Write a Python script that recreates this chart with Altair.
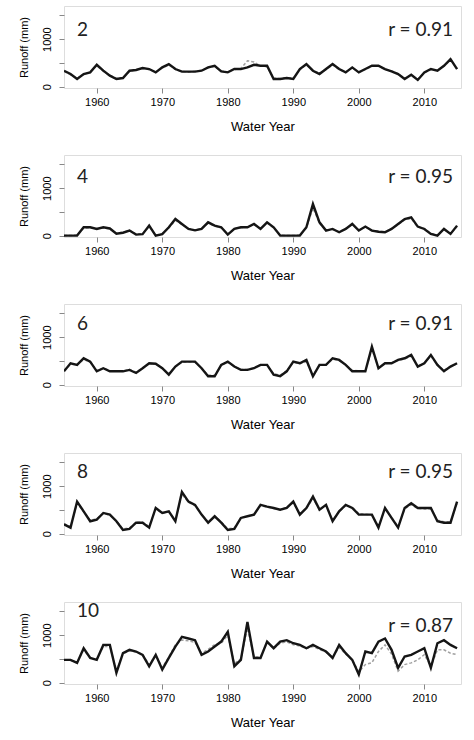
import altair as alt
import pandas as pd

# Water years shown on every panel
years = list(range(1955, 2016))

# Panel identifiers and the correlation printed in each panel
panel_ids = ["2", "4", "6", "8", "10"]
r_values = ["0.91", "0.95", "0.91", "0.95", "0.87"]

# Annual runoff (mm), observed and simulated, 1955-2015
obs_2 = [335, 265, 160, 265, 300, 460, 335, 230, 160, 180,
         335, 350, 390, 370, 300, 405, 475, 370, 315, 315,
         315, 335, 405, 440, 320, 300, 370, 370, 405, 460,
         440, 440, 160, 160, 180, 160, 370, 475, 335, 265,
         370, 475, 370, 300, 405, 300, 370, 440, 440, 370,
         320, 265, 160, 250, 140, 300, 370, 335, 440, 580, 370]
sim_2 = [320, 250, 175, 255, 310, 440, 320, 240, 175, 190,
         320, 360, 380, 360, 310, 395, 455, 360, 320, 305,
         325, 340, 395, 430, 330, 310, 360, 380, 545, 520,
         430, 420, 175, 170, 190, 175, 360, 455, 340, 280,
         360, 460, 360, 310, 395, 310, 360, 430, 430, 360,
         330, 275, 175, 240, 160, 290, 360, 345, 430, 560, 380]

obs_4 = [0, 0, 0, 175, 175, 140, 175, 150, 40, 60,
         105, 20, 30, 210, 0, 30, 175, 350, 245, 140,
         110, 140, 280, 210, 175, 20, 140, 175, 175, 245,
         140, 280, 175, 0, 0, 0, 0, 175, 665, 280,
         105, 140, 70, 140, 245, 105, 190, 105, 80, 70,
         140, 245, 350, 385, 190, 140, 35, 0, 140, 35, 210]
sim_4 = [0, 0, 10, 160, 165, 150, 160, 140, 50, 70,
         110, 30, 40, 190, 10, 40, 160, 320, 230, 150,
         120, 150, 260, 200, 170, 30, 150, 165, 185, 230,
         150, 260, 165, 10, 0, 0, 10, 160, 580, 260,
         115, 130, 80, 150, 230, 115, 180, 115, 90, 80,
         150, 230, 330, 360, 180, 150, 45, 10, 130, 45, 190]

obs_6 = [280, 450, 415, 555, 485, 280, 345, 280, 280, 280,
         310, 245, 345, 450, 440, 345, 210, 380, 485, 485,
         485, 345, 175, 175, 415, 485, 380, 310, 310, 345,
         415, 415, 210, 175, 280, 485, 450, 520, 175, 415,
         415, 555, 520, 415, 280, 280, 280, 800, 345, 450,
         450, 520, 555, 625, 380, 450, 625, 415, 280, 380, 450]
sim_6 = [300, 430, 420, 530, 470, 300, 350, 290, 290, 285,
         320, 260, 350, 440, 430, 350, 230, 380, 470, 480,
         470, 350, 200, 195, 410, 470, 380, 320, 320, 350,
         410, 410, 230, 200, 290, 470, 440, 480, 200, 410,
         420, 530, 510, 420, 300, 290, 290, 740, 360, 440,
         460, 510, 540, 600, 390, 450, 600, 420, 300, 380, 440]

obs_8 = [195, 125, 675, 470, 260, 295, 435, 400, 260, 75,
         100, 230, 230, 125, 540, 435, 470, 260, 880, 675,
         605, 400, 230, 365, 230, 75, 100, 330, 365, 400,
         605, 570, 540, 505, 540, 675, 400, 540, 780, 505,
         605, 260, 470, 605, 540, 400, 400, 400, 125, 540,
         330, 125, 540, 640, 540, 540, 540, 260, 230, 230, 675]
sim_8 = [210, 150, 640, 460, 280, 310, 420, 390, 270, 100,
         120, 240, 240, 150, 520, 430, 460, 280, 830, 660,
         590, 400, 250, 360, 250, 100, 120, 340, 370, 410,
         590, 560, 530, 500, 560, 650, 410, 530, 740, 510,
         590, 280, 470, 590, 560, 420, 410, 390, 150, 520,
         340, 150, 520, 610, 530, 520, 520, 280, 250, 250, 640]

obs_10 = [480, 480, 415, 725, 520, 480, 795, 795, 205, 620,
          690, 655, 585, 345, 585, 275, 520, 760, 965, 930,
          895, 585, 655, 760, 865, 1070, 345, 480, 1280, 520,
          520, 865, 725, 865, 895, 830, 795, 725, 795, 725,
          655, 520, 795, 620, 480, 170, 655, 620, 865, 930,
          690, 310, 550, 585, 655, 725, 310, 830, 895, 795, 725]
sim_10 = [470, 470, 430, 690, 520, 490, 760, 760, 250, 610,
          670, 650, 590, 380, 580, 320, 540, 800, 900, 880,
          850, 620, 700, 800, 830, 1000, 400, 500, 1150, 540,
          540, 840, 720, 830, 860, 800, 770, 720, 760, 700,
          640, 540, 740, 600, 480, 230, 380, 420, 655, 795,
          600, 240, 380, 415, 480, 590, 340, 690, 690, 620, 590]

series_obs = [obs_2, obs_4, obs_6, obs_8, obs_10]
series_sim = [sim_2, sim_4, sim_6, sim_8, sim_10]

# vertical position (px from panel top) of the panel id and the r label
id_y = [24, 22, 20, 19, 9]
r_y = [24, 22, 20, 19, 24]

PANEL_W = 397
PANEL_H = 82


def make_panel(i):
    n = len(years)
    df = pd.DataFrame({
        "year": years * 2,
        "runoff": series_obs[i] + series_sim[i],
        "series": ["Observed"] * n + ["Simulated"] * n,
    })
    x = alt.X(
        "year:Q",
        scale=alt.Scale(domain=[1955, 2015.6], nice=False, zero=False),
        axis=alt.Axis(
            values=[1960, 1970, 1980, 1990, 2000, 2010],
            format="d",
            title="Water Year",
            grid=False,
            domain=False,
            tickSize=5,
            labelPadding=3,
            labelFontSize=11,
            titleFontSize=13,
            titleFontWeight="normal",
            titlePadding=13,
        ),
    )
    y = alt.Y(
        "runoff:Q",
        scale=alt.Scale(domain=[-30, 1700], nice=False, zero=False),
        axis=alt.Axis(
            values=[0, 500, 1000, 1500],
            format="d",
            labelExpr="datum.value === 0 || datum.value === 1000 ? datum.label : ''",
            title="Runoff (mm)",
            grid=False,
            domain=False,
            tickSize=5,
            labelAngle=-90,
            labelAlign="center",
            labelBaseline="bottom",
            labelPadding=7,
            labelFontSize=11,
            titleFontSize=11,
            titleFontWeight="normal",
            titlePadding=12,
        ),
    )
    sim_line = (
        alt.Chart(df[df["series"] == "Simulated"])
        .mark_line(color="#a0a0a0", strokeWidth=1.5, strokeDash=[3, 2], clip=True)
        .encode(x=x, y=y)
    )
    obs_line = (
        alt.Chart(df[df["series"] == "Observed"])
        .mark_line(color="#151515", strokeWidth=2.4, clip=True)
        .encode(x=x, y=y)
    )
    id_text = (
        alt.Chart(pd.DataFrame({"t": [panel_ids[i]]}))
        .mark_text(align="left", baseline="middle", font="Lato",
                   fontSize=19, color="#222222")
        .encode(x=alt.value(13), y=alt.value(id_y[i]), text="t:N")
    )
    r_text = (
        alt.Chart(pd.DataFrame({"t": ["r = " + r_values[i]]}))
        .mark_text(align="right", baseline="middle", font="Lato",
                   fontSize=19, color="#222222")
        .encode(x=alt.value(PANEL_W - 8), y=alt.value(r_y[i]), text="t:N")
    )
    return alt.layer(sim_line, obs_line, id_text, r_text).properties(
        width=PANEL_W, height=PANEL_H
    )


chart = (
    alt.vconcat(*[make_panel(i) for i in range(5)], spacing=20)
    .properties(padding={"left": 17, "top": 5, "right": 5, "bottom": 5})
    .configure_view(stroke="#777777", strokeWidth=2)
    .configure_axis(
        labelFont="Liberation Sans",
        titleFont="Liberation Sans",
        labelColor="#444444",
        titleColor="#333333",
        tickColor="#555555",
        titleFontWeight="normal",
    )
    .configure(background="white")
)

chart.save("out.html", embed_options={"renderer": "svg", "actions": False})
